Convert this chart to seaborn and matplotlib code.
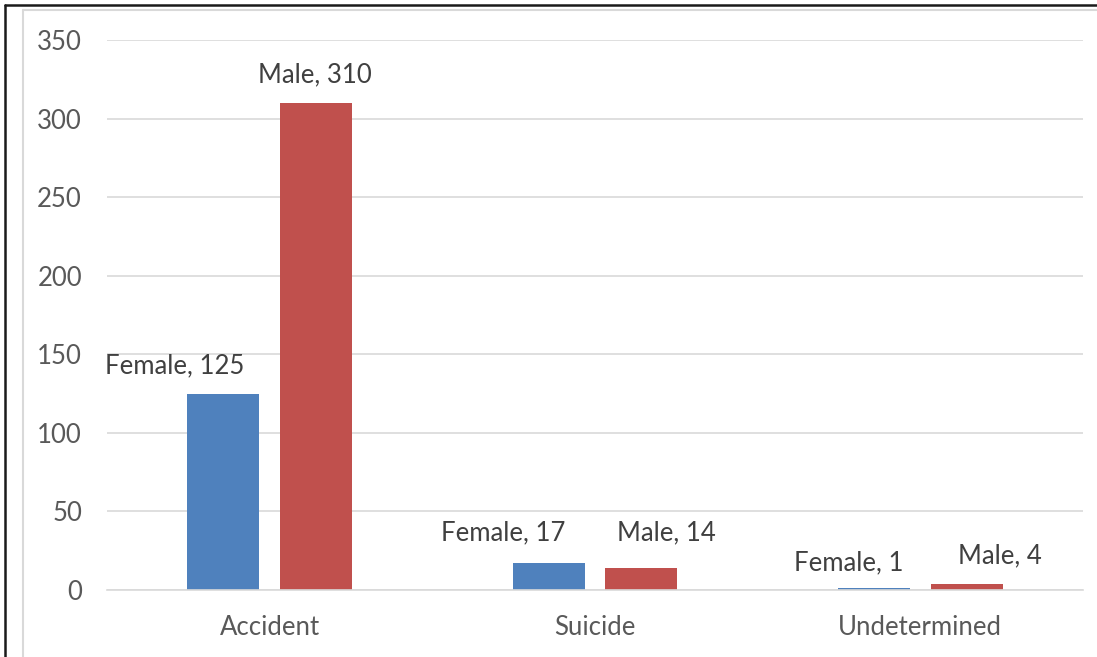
import matplotlib
matplotlib.use("Agg")
import matplotlib.pyplot as plt
from matplotlib.lines import Line2D
import pandas as pd
import seaborn as sns

# Deaths by manner and sex
categories = ["Accident", "Suicide", "Undetermined"]
sexes = ["Female", "Male"]
female_counts = [125, 17, 1]
male_counts = [310, 14, 4]
y_ticks = [0, 50, 100, 150, 200, 250, 300, 350]

palette = {"Female": "#4F81BD", "Male": "#C0504D"}

rows = []
for cat, f, m in zip(categories, female_counts, male_counts):
    rows.append({"Manner": cat, "Sex": "Female", "Count": f})
    rows.append({"Manner": cat, "Sex": "Male", "Count": m})
df = pd.DataFrame(rows)

sns.set_theme(style="white")
plt.rcParams["font.family"] = ["Lato", "DejaVu Sans"]

W, H = 1097, 657
FS = 18.5
fig = plt.figure(figsize=(W / 100, H / 100), dpi=100)
ax = fig.add_axes([107 / W, 1 - 590 / H, (1083 - 107) / W, (590 - 40) / H])

sns.barplot(data=df, x="Manner", y="Count", hue="Sex", order=categories,
            hue_order=sexes, palette=palette, width=0.57, gap=0.225,
            saturation=1, edgecolor="none", legend=False, ax=ax)

ax.set_xlim(-0.5, len(categories) - 0.5)
ax.set_ylim(0, 350)
ax.set_yticks(y_ticks)
ax.set_xlabel("")
ax.set_ylabel("")
ax.yaxis.grid(True, color="#D9D9D9", linewidth=1.2)
ax.set_axisbelow(True)
for side in ["left", "right", "top"]:
    ax.spines[side].set_visible(False)
ax.spines["bottom"].set_color("#D9D9D9")
ax.spines["bottom"].set_linewidth(1.2)
ax.tick_params(axis="y", length=0, pad=18, labelsize=FS, labelcolor="#595959")
ax.tick_params(axis="x", length=0, pad=18, labelsize=FS, labelcolor="#595959")

# Data labels, placed around each bar (pixel offsets from the bar top)
offsets = {
    ("Female", 0): (-49, 28), ("Male", 0): (-1, 28),
    ("Female", 1): (-45, 30), ("Male", 1): (25, 35),
    ("Female", 2): (-25, 26), ("Male", 2): (33, 28),
}
for container, sex in zip(ax.containers, sexes):
    for i, bar in enumerate(container):
        val = bar.get_height()
        dx, dy = offsets[(sex, i)]
        ax.annotate(f"{sex}, {int(val)}",
                    xy=(bar.get_x() + bar.get_width() / 2, val),
                    xytext=(dx, dy), textcoords="offset pixels",
                    ha="center", va="center", fontsize=FS, color="#404040")

# Frame lines along the top and left edges
fig.add_artist(Line2D([4.5 / W, 1], [1 - 4.5 / H, 1 - 4.5 / H],
                      color="#1a1a1a", linewidth=1.8, transform=fig.transFigure))
fig.add_artist(Line2D([4.5 / W, 4.5 / W], [0, 1 - 4.5 / H],
                      color="#1a1a1a", linewidth=1.8, transform=fig.transFigure))
fig.add_artist(Line2D([22.5 / W, 1], [1 - 9.5 / H, 1 - 9.5 / H],
                      color="#D9D9D9", linewidth=1.5, transform=fig.transFigure))
fig.add_artist(Line2D([22.5 / W, 22.5 / W], [0, 1 - 9.5 / H],
                      color="#D9D9D9", linewidth=1.5, transform=fig.transFigure))

fig.savefig("out.png", dpi=100, facecolor="white")
